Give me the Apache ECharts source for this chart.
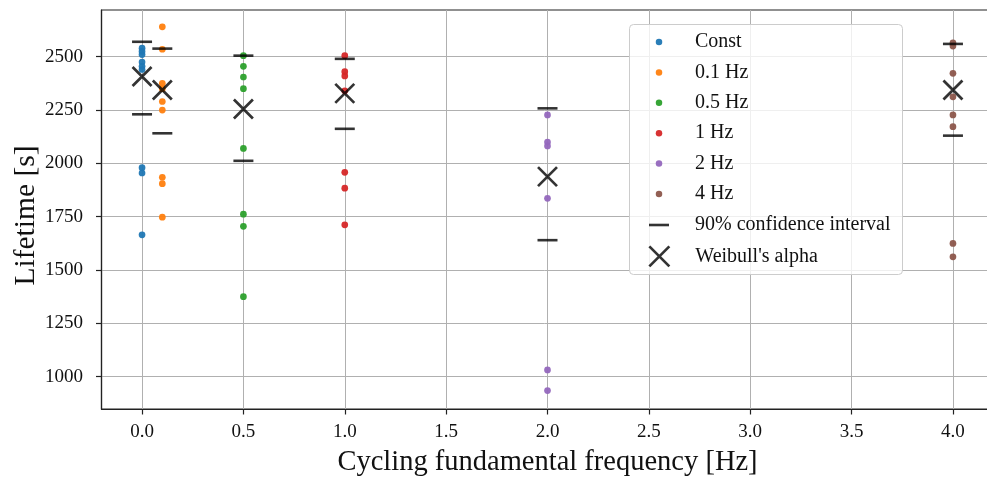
<!DOCTYPE html>
<html>
<head>
<meta charset="utf-8">
<script src="https://cdn.jsdelivr.net/npm/echarts@6/dist/echarts.min.js"></script>
<style>
  html, body { margin: 0; padding: 0; background: #fff; }
  #chart { width: 987px; height: 482px; }
</style>
</head>
<body>
<div id="chart"></div>
<script>
// Lifetime measurements per cycling frequency
const groupNames = ['Const', '0.1 Hz', '0.5 Hz', '1 Hz', '2 Hz', '4 Hz'];
const groupFreq = [0, 0.1, 0.5, 1, 2, 4];
const groupColors = ['#1f77b4', '#ff7f0e', '#2ca02c', '#d62728', '#9467bd', '#8c564b'];

const lifetimeConst = [2540, 2525, 2510, 2475, 2455, 2440, 1980, 1955, 1665];
const lifetime01Hz = [2640, 2535, 2375, 2350, 2290, 2250, 1935, 1905, 1748];
const lifetime05Hz = [2505, 2455, 2405, 2350, 2070, 1762, 1705, 1375];
const lifetime1Hz = [2505, 2430, 2410, 2340, 1958, 1884, 1712];
const lifetime2Hz = [2227, 2100, 2082, 1836, 1032, 935];
const lifetime4Hz = [2565, 2550, 2422, 2312, 2227, 2172, 1625, 1562];
const lifetimes = [lifetimeConst, lifetime01Hz, lifetime05Hz, lifetime1Hz, lifetime2Hz, lifetime4Hz];

// 90% confidence interval bounds and Weibull scale parameter per group
const ciUpper = [2570, 2538, 2505, 2490, 2258, 2560];
const ciLower = [2230, 2141, 2012, 2162, 1640, 2130];
const weibullAlpha = [2407, 2344, 2255, 2328, 1938, 2344];

// Axis ticks
const xTicks = [0, 0.5, 1, 1.5, 2, 2.5, 3, 3.5, 4];
const yTicks = [1000, 1250, 1500, 1750, 2000, 2250, 2500];

const FONT = '"Liberation Serif", "Times New Roman", serif';
const INK = '#111';
const CROSS = 'path://M0,0L20,20M20,0L0,20';
const DASH = 'path://M0,0H20V2.6H0Z';

const series = groupNames.map((name, i) => ({
  name: name,
  type: 'scatter',
  symbol: 'circle',
  symbolSize: 6.7,
  z: 2,
  itemStyle: { color: groupColors[i], opacity: 0.95 },
  data: lifetimes[i].map(v => [groupFreq[i], v])
}));

const ciData = [];
groupFreq.forEach((f, i) => { ciData.push([f, ciUpper[i]]); ciData.push([f, ciLower[i]]); });

series.push({
  name: '90% confidence interval',
  type: 'scatter',
  symbol: 'rect',
  symbolSize: [20, 2.6],
  z: 3,
  itemStyle: { color: '#000' },
  data: ciData
});

series.push({
  name: "Weibull's alpha",
  type: 'scatter',
  symbol: CROSS,
  symbolSize: 19,
  z: 3,
  itemStyle: { color: 'rgba(0,0,0,0)', borderColor: '#000', borderWidth: 2.7 },
  data: groupFreq.map((f, i) => [f, weibullAlpha[i]])
});

// Legend entries are laid out from the left edge of their icon,
// so each block is shifted to keep the icons centred on one column.
const legendCommon = {
  orient: 'vertical',
  padding: 0,
  itemWidth: 62,
  z: 6,
  selectedMode: false,
  textStyle: { fontFamily: FONT, fontSize: 20, color: INK }
};

const chart = echarts.init(document.getElementById('chart'), null, { renderer: 'canvas' });
chart.setOption({
  animation: false,
  backgroundColor: '#fff',
  textStyle: { fontFamily: FONT },
  grid: {
    left: 101.5, top: 10, right: -6.5, bottom: 73,
    containLabel: false, outerBoundsMode: 'none',
    show: true, borderColor: '#222', borderWidth: 1.2, backgroundColor: 'transparent'
  },
  xAxis: {
    type: 'value',
    min: -0.2, max: 4.2,
    name: 'Cycling fundamental frequency [Hz]',
    nameLocation: 'middle',
    nameGap: 39,
    nameTextStyle: { fontFamily: FONT, fontSize: 28.5, color: INK },
    axisLine: { show: true, onZero: false, lineStyle: { color: '#222', width: 1.2 } },
    axisTick: { show: true, inside: false, length: 5.5, customValues: xTicks, lineStyle: { color: '#222', width: 1.2 } },
    axisLabel: { customValues: xTicks, margin: 14, fontFamily: FONT, fontSize: 19, color: INK,
      formatter: v => v.toFixed(1) },
    splitLine: { show: true, lineStyle: { color: '#b0b0b0', width: 1 } }
  },
  yAxis: {
    type: 'value',
    min: 848.6, max: 2719,
    name: 'Lifetime [s]',
    nameLocation: 'middle',
    nameGap: 60,
    nameMoveOverlap: false,
    nameTextStyle: { fontFamily: FONT, fontSize: 29.5, color: INK, padding: [0, 12, 0, 0] },
    axisLine: { show: true, onZero: false, lineStyle: { color: '#222', width: 1.2 } },
    axisTick: { show: true, inside: false, length: 5.5, customValues: yTicks, lineStyle: { color: '#222', width: 1.2 } },
    axisLabel: { customValues: yTicks, margin: 18.5, fontFamily: FONT, fontSize: 19, color: INK,
      formatter: v => String(v) },
    splitLine: { show: true, lineStyle: { color: '#b0b0b0', width: 1 } }
  },
  graphic: [{
    type: 'rect',
    z: 5,
    shape: { x: 629.5, y: 24.5, width: 273, height: 250, r: 4 },
    style: { fill: 'rgba(255,255,255,0.8)', stroke: '#cccccc', lineWidth: 1 }
  }],
  legend: [
    Object.assign({}, legendCommon, {
      left: 655.75,
      top: 32,
      itemHeight: 6.5,
      itemGap: 10.4,
      data: groupNames.map(n => ({ name: n, icon: 'circle' }))
    }),
    Object.assign({}, legendCommon, {
      left: 649,
      top: 215,
      itemHeight: 2.6,
      data: [{ name: '90% confidence interval', icon: DASH }]
    }),
    Object.assign({}, legendCommon, {
      left: 648,
      top: 245,
      itemHeight: 20,
      data: [{ name: "Weibull's alpha", icon: CROSS,
        itemStyle: { color: 'rgba(0,0,0,0)', borderColor: '#000', borderWidth: 2.7 } }]
    })
  ],
  series: series
});
</script>
</body>
</html>
